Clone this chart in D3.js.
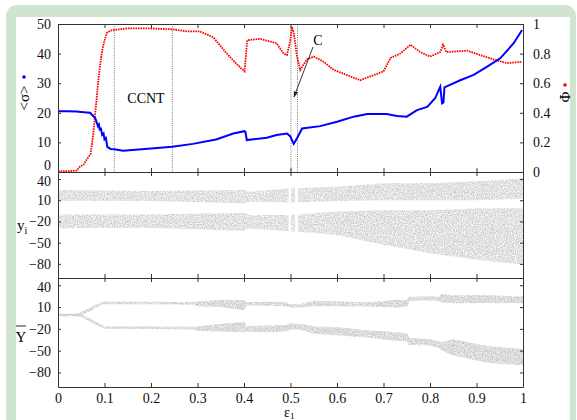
<!DOCTYPE html>
<html>
<head>
<meta charset="utf-8">
<script src="https://cdn.jsdelivr.net/npm/d3@7"></script>
<style>
  body { margin: 0; background: #fff; }
  svg { display: block; font-family: "Liberation Serif", "DejaVu Serif", serif; }
</style>
</head>
<body>
<svg id="chart" width="577" height="420"></svg>
<script>
// Top panel -- <sigma> (blue, left axis)
let sigmaEps = [0, 0.02, 0.04, 0.055, 0.069, 0.08, 0.086, 0.088, 0.09, 0.092, 0.095, 0.098, 0.1, 0.103, 0.106, 0.113, 0.121, 0.14, 0.2, 0.246, 0.29, 0.34, 0.377, 0.401, 0.403, 0.406, 0.449, 0.47, 0.4925, 0.4996, 0.507, 0.514, 0.525, 0.564, 0.6, 0.636, 0.665, 0.707, 0.729, 0.75, 0.772, 0.794, 0.811, 0.822, 0.824, 0.826, 0.829, 0.831, 0.865, 0.894, 0.923, 0.951, 0.98, 0.998];
let sigmaVals = [20.5, 20.5, 20.4, 20.2, 20, 18.2, 15.5, 16, 14, 15, 12.5, 13, 11, 11.5, 8.5, 7.8, 7.7, 7.2, 7.9, 8.5, 9.5, 11, 13, 13.8, 13.6, 10.8, 11.6, 12.5, 13, 12, 9.5, 11.4, 14.7, 15.5, 17, 18.7, 19.6, 19.6, 18.9, 18.7, 20.9, 22, 24.9, 28.8, 26, 23.2, 23.5, 28.6, 31, 32.8, 35.6, 38.4, 43.5, 48];

// Top panel -- Phi (red, right axis)
let phiEps = [0, 0.02, 0.04, 0.047, 0.055, 0.065, 0.07, 0.076, 0.08, 0.083, 0.086, 0.09, 0.094, 0.097, 0.101, 0.105, 0.113, 0.121, 0.148, 0.2, 0.246, 0.277, 0.305, 0.334, 0.363, 0.384, 0.401, 0.407, 0.434, 0.47, 0.485, 0.4925, 0.4996, 0.503, 0.507, 0.514, 0.521, 0.535, 0.55, 0.571, 0.593, 0.621, 0.65, 0.679, 0.7, 0.715, 0.736, 0.758, 0.779, 0.8, 0.822, 0.828, 0.835, 0.88, 0.908, 0.937, 0.966, 0.998];
let phiVals = [0.005, 0.005, 0.01, 0.036, 0.05, 0.1, 0.12, 0.26, 0.4, 0.49, 0.6, 0.71, 0.8, 0.85, 0.9, 0.94, 0.955, 0.96, 0.97, 0.97, 0.964, 0.95, 0.95, 0.91, 0.8, 0.73, 0.68, 0.89, 0.9, 0.87, 0.8, 0.79, 0.89, 0.98, 0.94, 0.78, 0.69, 0.76, 0.78, 0.745, 0.69, 0.655, 0.62, 0.655, 0.68, 0.77, 0.8, 0.86, 0.81, 0.78, 0.81, 0.86, 0.81, 0.82, 0.79, 0.76, 0.735, 0.745];

// Vertical marker lines in top panel
let markerEps = [0.121, 0.246, 0.501, 0.515];

// Middle panel -- y_i bands (envelopes of the cloud)
let yiEps = [0, 0.2, 0.4, 0.41, 0.5, 0.6, 0.7, 0.8, 0.9, 1.0];
let yiUpperHi = [24.5, 23, 24.5, 22, 27, 29, 34, 34, 37, 41];
let yiUpperLo = [9.4, 9, 5.7, 8, 7, 9, 10, 10, 10, 12];
let yiLowerHi = [-10, -10, -7.6, -11, -11, -6, -4, -4, -1.4, -1.4];
let yiLowerLo = [-29.7, -29, -33.5, -30, -34, -39, -53, -65, -74, -81];
let yiGaps = [[0.496, 0.501], [0.510, 0.516]];

// Bottom panel -- Y-bar branches
let ybEps = [0, 0.04, 0.05, 0.06, 0.07, 0.08, 0.09, 0.1, 0.2, 0.29, 0.3, 0.35, 0.4, 0.405, 0.45, 0.49, 0.5, 0.52, 0.55, 0.6, 0.67, 0.73, 0.75, 0.755, 0.8, 0.82, 0.825, 0.85, 0.92, 1.0];
let ybUpperHi = [0, 0, 2.5, 5.5, 8.5, 12, 15, 17, 16.5, 16, 17, 19, 19, 16, 16.5, 16, 13, 13, 18, 17, 16, 19.3, 18.5, 23.5, 24, 23, 27, 26, 25.5, 24];
let ybUpperLo = [-2, -2, -1, 2.5, 5.5, 9.5, 13, 15, 14.5, 14, 12, 11, 6.5, 13, 12.5, 12, 10, 10, 12, 12, 11.4, 10, 11, 19, 20, 19, 17, 16, 16.5, 16];
let ybLowerHi = [0, 0, -1, -4, -7, -11, -14, -17, -17.5, -18, -17, -14, -11, -17, -16, -15, -13, -14, -17, -18.5, -23, -25.5, -27, -33, -35, -38, -39, -35, -44, -48.6];
let ybLowerLo = [-2, -2, -3, -6, -9.5, -13, -16, -19, -19.5, -20, -22, -23, -24, -23, -24, -23, -20, -20, -26, -28, -31.6, -36, -36, -41, -42, -46, -48.6, -55.5, -65.7, -69.4];

// Tick values
let xTicks = [0, 0.1, 0.2, 0.3, 0.4, 0.5, 0.6, 0.7, 0.8, 0.9, 1];
let sigmaTicks = [0, 10, 20, 30, 40, 50];
let phiTicks = [0, 0.2, 0.4, 0.6, 0.8, 1];
let yTicks = [40, 10, -20, -50, -80];

drawChart();


// -- Function definitions -- //

function drawChart() {
  let svg = d3.select("#chart");
  let defs = svg.append("defs");
  // Speckle textures so the bands read as clouds of points
  addSpeckle(defs, "speckle", -0.42);
  addSpeckle(defs, "speckleDense", -0.3);

  // Frame: green rounded border with white inset
  svg.append("rect").attr("x", 6).attr("y", 5).attr("width", 570).attr("height", 440)
    .attr("rx", 11).attr("fill", "#cfe5cf");
  svg.append("rect").attr("x", 16).attr("y", 17).attr("width", 554).attr("height", 420)
    .attr("fill", "#ffffff");

  let left = 58, right = 523;
  let panels = {
    top: [24, 172],
    mid: [172, 278],
    bot: [278, 387],
  };
  let x = d3.scaleLinear([0, 1], [left, right]);
  let ySig = d3.scaleLinear([0, 50], [panels.top[1], panels.top[0]]);
  let yPhi = d3.scaleLinear([0, 1], [panels.top[1], panels.top[0]]);
  let yMid = d3.scaleLinear([-100, 50], [panels.mid[1], panels.mid[0]]);
  let yBot = d3.scaleLinear([-100, 50], [panels.bot[1], panels.bot[0]]);

  // Middle panel bands
  let mid = svg.append("g");
  drawBand(mid, x, yMid, yiEps, yiUpperLo, yiUpperHi, 0, "speckle");
  drawBand(mid, x, yMid, yiEps, yiLowerLo, yiLowerHi, 0, "speckle");
  mid.selectAll("rect.gap").data(yiGaps).join("rect")
    .attr("class", "gap")
    .attr("x", d => x(d[0])).attr("width", d => x(d[1]) - x(d[0]))
    .attr("y", panels.mid[0] + 1).attr("height", panels.mid[1] - panels.mid[0] - 2)
    .attr("fill", "#fff");

  // Bottom panel branches
  let bot = svg.append("g");
  drawBand(bot, x, yBot, ybEps, ybUpperLo, ybUpperHi, 1.1, "speckleDense");
  drawBand(bot, x, yBot, ybEps, ybLowerLo, ybLowerHi, 1.1, "speckleDense");

  // Top panel: marker lines
  svg.append("g").selectAll("line").data(markerEps).join("line")
    .attr("x1", d => x(d)).attr("x2", d => x(d))
    .attr("y1", panels.top[0]).attr("y2", panels.top[1])
    .attr("stroke", "#555").attr("stroke-width", 0.8)
    .attr("stroke-dasharray", "1,1.2");

  // Top panel: Phi (red dots) and <sigma> (blue line)
  let phiLine = d3.line().x(d => x(d[0])).y(d => yPhi(d[1]));
  svg.append("path").datum(d3.zip(phiEps, phiVals))
    .attr("d", phiLine).attr("fill", "none")
    .attr("stroke", "#ff0000").attr("stroke-width", 1.8)
    .attr("stroke-dasharray", "1.6,0.9");
  let sigLine = d3.line().x(d => x(d[0])).y(d => ySig(d[1]));
  svg.append("path").datum(d3.zip(sigmaEps, sigmaVals))
    .attr("d", sigLine).attr("fill", "none")
    .attr("stroke", "#0000ff").attr("stroke-width", 2);

  // Axes for each panel
  let fmt = d3.format("~g");
  Object.entries(panels).forEach(([key, [y0, y1]]) => {
    let isBot = key === "bot";
    // Bottom edge
    svg.append("g").attr("transform", `translate(0,${y1})`)
      .call(d3.axisBottom(x).tickValues(xTicks).tickSize(-4).tickSizeOuter(0)
        .tickPadding(6).tickFormat(isBot ? fmt : ""))
      .call(styleAxis);
    // Top edge
    svg.append("g").attr("transform", `translate(0,${y0})`)
      .call(d3.axisTop(x).tickValues(xTicks).tickSize(-4).tickSizeOuter(0).tickFormat(""))
      .call(styleAxis);
  });
  // Left / right axes
  svg.append("g").attr("transform", `translate(${left},0)`)
    .call(d3.axisLeft(ySig).tickValues(sigmaTicks).tickSize(-3).tickSizeOuter(0).tickPadding(7))
    .call(styleAxis)
    .call(g => g.selectAll(".tick text").filter(d => d === 0).attr("dy", "-0.15em"));
  svg.append("g").attr("transform", `translate(${right},0)`)
    .call(d3.axisRight(yPhi).tickValues(phiTicks).tickSize(-3).tickSizeOuter(0).tickPadding(10).tickFormat(fmt))
    .call(styleAxis);
  [yMid, yBot].forEach(y => {
    svg.append("g").attr("transform", `translate(${left},0)`)
      .call(d3.axisLeft(y).tickValues(yTicks).tickSize(-3).tickSizeOuter(0).tickPadding(7))
      .call(styleAxis)
      .call(g => g.selectAll(".tick text").filter(d => d === 40).attr("dy", "0.45em"));
    svg.append("g").attr("transform", `translate(${right},0)`)
      .call(d3.axisRight(y).tickValues(yTicks).tickSize(-3).tickSizeOuter(0).tickFormat(""))
      .call(styleAxis);
  });

  // Annotations
  svg.append("text").attr("x", 146).attr("y", 103).attr("text-anchor", "middle")
    .attr("font-size", 14).text("CCNT");
  svg.append("text").attr("x", 318).attr("y", 45).attr("text-anchor", "middle")
    .attr("font-size", 14).text("C");
  defs.append("marker")
    .attr("id", "arrow").attr("viewBox", "0 0 10 10").attr("refX", 9).attr("refY", 5)
    .attr("markerWidth", 7).attr("markerHeight", 7).attr("orient", "auto")
    .append("path").attr("d", "M0,1.5L10,5L0,8.5Z").attr("fill", "#222");
  svg.append("line").attr("x1", 313).attr("y1", 47).attr("x2", 294).attr("y2", 97)
    .attr("stroke", "#222").attr("stroke-width", 0.9).attr("marker-end", "url(#arrow)");

  // Axis titles
  svg.append("text").attr("transform", "translate(29,98) rotate(-90)")
    .attr("text-anchor", "middle").attr("font-size", 15).text("<σ>");
  svg.append("circle").attr("cx", 24).attr("cy", 77).attr("r", 1.8).attr("fill", "#0000ff");
  svg.append("text").attr("transform", "translate(570,97) rotate(-90)")
    .attr("text-anchor", "middle").attr("font-size", 15).text("Φ");
  svg.append("circle").attr("cx", 565).attr("cy", 85).attr("r", 1.8).attr("fill", "#ff0000");

  let yi = svg.append("text").attr("x", 17).attr("y", 230).attr("font-size", 15);
  yi.append("tspan").text("y");
  yi.append("tspan").attr("font-size", 10).attr("dy", 4).text("i");

  svg.append("text").attr("x", 21).attr("y", 342).attr("text-anchor", "middle")
    .attr("font-size", 15).text("Y");
  svg.append("line").attr("x1", 16).attr("x2", 26).attr("y1", 326).attr("y2", 326)
    .attr("stroke", "#111").attr("stroke-width", 0.9);

  let xl = svg.append("text").attr("x", 284).attr("y", 417).attr("font-size", 14);
  xl.append("tspan").text("ε");
  xl.append("tspan").attr("font-size", 9).attr("dy", 2).text("1");
}

// Noise mask filter: gray dots whose density is set by offset
function addSpeckle(defs, id, offset) {
  let f = defs.append("filter").attr("id", id)
    .attr("x", 0).attr("y", 0).attr("width", 1).attr("height", 1);
  f.append("feTurbulence").attr("type", "fractalNoise")
    .attr("baseFrequency", 0.9).attr("numOctaves", 2).attr("seed", 4).attr("result", "noise");
  f.append("feColorMatrix").attr("in", "noise").attr("type", "matrix")
    .attr("values", `0 0 0 0 0.55  0 0 0 0 0.55  0 0 0 0 0.55  1.8 0 0 0 ${offset}`)
    .attr("result", "dots");
  f.append("feComposite").attr("in", "dots").attr("in2", "SourceGraphic")
    .attr("operator", "in");
}

// Filled envelope between lo and hi, speckled like a point cloud
function drawBand(g, x, y, eps, lo, hi, strokeWidth, filterId) {
  let area = d3.area()
    .x(d => x(d[0]))
    .y0(d => y(d[1]))
    .y1(d => y(d[2]));
  g.append("path").datum(d3.zip(eps, lo, hi))
    .attr("d", area)
    .attr("fill", "#fff")
    .attr("stroke", strokeWidth ? "#fff" : "none")
    .attr("stroke-width", strokeWidth)
    .attr("filter", `url(#${filterId})`);
}

function styleAxis(g) {
  g.selectAll(".domain").attr("stroke", "#333").attr("stroke-width", 1);
  g.selectAll(".tick line").attr("stroke", "#333");
  g.selectAll(".tick text").attr("font-size", 14).attr("fill", "#111")
    .attr("font-family", "Liberation Serif, DejaVu Serif, serif");
}
</script>
</body>
</html>
